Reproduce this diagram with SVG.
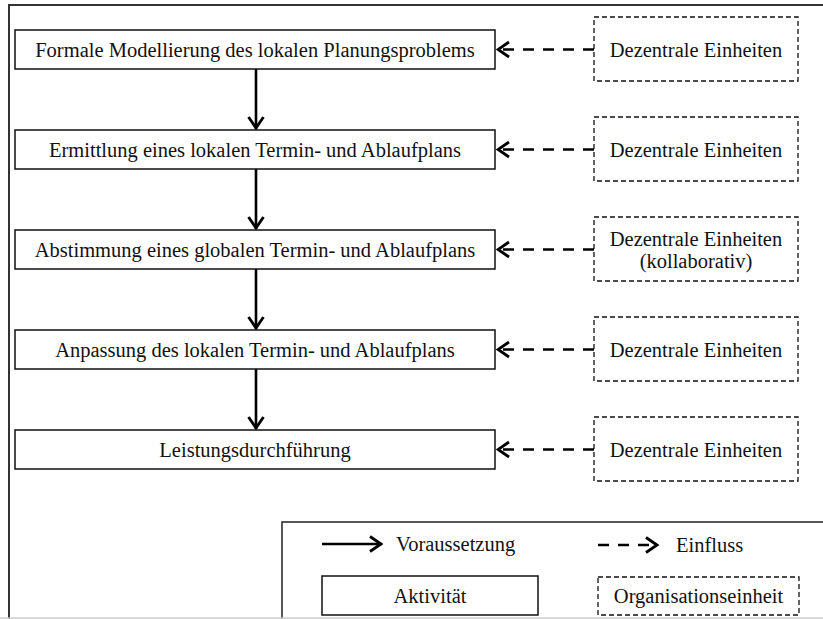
<svg xmlns="http://www.w3.org/2000/svg" width="823" height="619" viewBox="0 0 823 619">
  <style>
    text { font-family: "Liberation Serif", "Times New Roman", serif; font-size: 20.5px; fill: #111; }
    .act { fill: #fff; stroke: #111; stroke-width: 1.5; }
    .org { fill: #fff; stroke: #111; stroke-width: 1.3; stroke-dasharray: 5 3; }
    .req { fill: none; stroke: #000; stroke-width: 2.6; }
    .inf { fill: none; stroke: #000; stroke-width: 2.6; stroke-dasharray: 11 9; }
  </style>
  <defs>
    <marker id="head" viewBox="0 0 16 20" refX="14.5" refY="10" markerWidth="16" markerHeight="20" markerUnits="userSpaceOnUse" orient="auto">
      <path d="M2.5,2.5 L13.5,10 L2.5,17.5" fill="none" stroke="#000" stroke-width="2.8"/>
    </marker>
  </defs>

  <rect width="823" height="619" fill="#fff"/>
  <!-- outer frame -->
  <rect x="9" y="5" width="830" height="630" fill="none" stroke="#333" stroke-width="2"/>

  <!-- connectors -->
  <g id="connectors">
    <line class="req" x1="256" y1="69" x2="256" y2="129" marker-end="url(#head)"/>
    <line class="req" x1="256" y1="169" x2="256" y2="229" marker-end="url(#head)"/>
    <line class="req" x1="256" y1="269" x2="256" y2="329" marker-end="url(#head)"/>
    <line class="req" x1="256" y1="369" x2="256" y2="429" marker-end="url(#head)"/>
    <line class="inf" x1="594" y1="49.5" x2="497" y2="49.5" marker-end="url(#head)"/>
    <line class="inf" x1="594" y1="149.5" x2="497" y2="149.5" marker-end="url(#head)"/>
    <line class="inf" x1="594" y1="249.5" x2="497" y2="249.5" marker-end="url(#head)"/>
    <line class="inf" x1="594" y1="349.5" x2="497" y2="349.5" marker-end="url(#head)"/>
    <line class="inf" x1="594" y1="449.5" x2="497" y2="449.5" marker-end="url(#head)"/>
  </g>

  <!-- activities -->
  <g id="a1"><rect class="act" x="15" y="30" width="480" height="39"/><text x="255" y="57" text-anchor="middle">Formale Modellierung des lokalen Planungsproblems</text></g>
  <g id="a2"><rect class="act" x="15" y="130" width="480" height="39"/><text x="255" y="157" text-anchor="middle">Ermittlung eines lokalen Termin- und Ablaufplans</text></g>
  <g id="a3"><rect class="act" x="15" y="230" width="480" height="39"/><text x="255" y="257" text-anchor="middle">Abstimmung eines globalen Termin- und Ablaufplans</text></g>
  <g id="a4"><rect class="act" x="15" y="330" width="480" height="39"/><text x="255" y="357" text-anchor="middle">Anpassung des lokalen Termin- und Ablaufplans</text></g>
  <g id="a5"><rect class="act" x="15" y="430" width="480" height="39"/><text x="255" y="457" text-anchor="middle">Leistungsdurchführung</text></g>

  <!-- organisational units -->
  <g id="o1"><rect class="org" x="594" y="17" width="204" height="64"/><text x="696" y="57" text-anchor="middle">Dezentrale Einheiten</text></g>
  <g id="o2"><rect class="org" x="594" y="117" width="204" height="64"/><text x="696" y="157" text-anchor="middle">Dezentrale Einheiten</text></g>
  <g id="o3"><rect class="org" x="594" y="217" width="204" height="64"/><text x="696" y="246" text-anchor="middle">Dezentrale Einheiten</text><text x="696" y="268" text-anchor="middle">(kollaborativ)</text></g>
  <g id="o4"><rect class="org" x="594" y="317" width="204" height="64"/><text x="696" y="357" text-anchor="middle">Dezentrale Einheiten</text></g>
  <g id="o5"><rect class="org" x="594" y="417" width="204" height="64"/><text x="696" y="457" text-anchor="middle">Dezentrale Einheiten</text></g>

  <!-- legend -->
  <g id="legend">
    <rect x="282" y="522" width="560" height="120" fill="#fff" stroke="#222" stroke-width="1.5"/>
    <line class="req" x1="322" y1="544" x2="382" y2="544" marker-end="url(#head)"/>
    <text x="396" y="551">Voraussetzung</text>
    <line class="inf" x1="598" y1="545" x2="658" y2="545" marker-end="url(#head)"/>
    <text x="676" y="552">Einfluss</text>
    <rect class="act" x="322" y="576" width="216" height="39"/>
    <text x="430" y="603" text-anchor="middle">Aktivität</text>
    <rect class="org" x="598" y="577" width="201" height="38"/>
    <text x="698.5" y="603" text-anchor="middle">Organisationseinheit</text>
  </g>
  <line x1="0" y1="618" x2="823" y2="618" stroke="#ccc" stroke-width="1.5"/>
</svg>
